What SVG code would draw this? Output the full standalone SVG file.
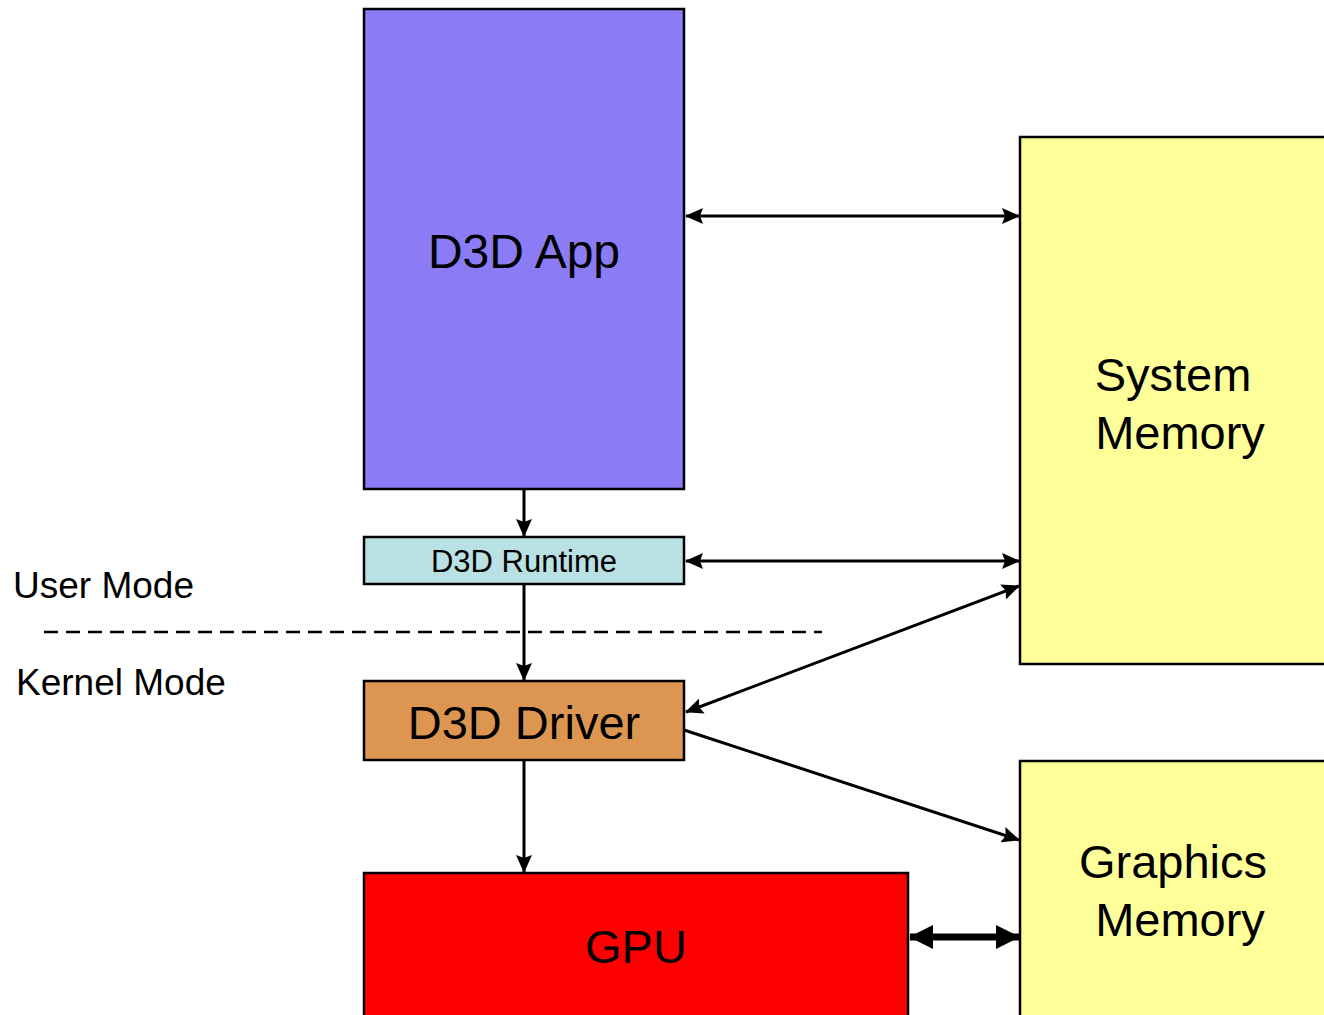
<svg xmlns="http://www.w3.org/2000/svg" width="1324" height="1015" viewBox="0 0 1324 1015">
<style>
.box{stroke:#000;stroke-width:2.5}
.t{font-family:"Liberation Sans",Arial,sans-serif;fill:#000}
.c{stroke:#000;stroke-width:3;fill:none}
</style>
<defs>
<marker id="ah" markerUnits="userSpaceOnUse" markerWidth="18" markerHeight="16" refX="17" refY="8" orient="auto-start-reverse" viewBox="0 0 18 16">
<path d="M0,0 L18,8 L0,16 L3,8 Z" fill="#000"/>
</marker>
<marker id="ahb" markerUnits="userSpaceOnUse" markerWidth="24" markerHeight="24" refX="23" refY="12" orient="auto-start-reverse" viewBox="0 0 24 24">
<path d="M0,0 L24,12 L0,24 Z" fill="#000"/>
</marker>
</defs>
<rect width="1324" height="1015" fill="#fff"/>
<g id="connectors">
<line class="c" x1="524" y1="489" x2="524" y2="536" marker-end="url(#ah)"/>
<line class="c" x1="524" y1="585" x2="524" y2="680" marker-end="url(#ah)"/>
<line class="c" x1="524" y1="761" x2="524" y2="872" marker-end="url(#ah)"/>
<line class="c" x1="686" y1="216" x2="1019" y2="216" marker-start="url(#ah)" marker-end="url(#ah)"/>
<line class="c" x1="686" y1="561" x2="1019" y2="561" marker-start="url(#ah)" marker-end="url(#ah)"/>
<line class="c" x1="686" y1="712" x2="1019" y2="586" marker-start="url(#ah)" marker-end="url(#ah)"/>
<line class="c" x1="684" y1="730" x2="1019" y2="840" marker-end="url(#ah)"/>
<line x1="910" y1="937" x2="1019" y2="937" stroke="#000" stroke-width="7" marker-start="url(#ahb)" marker-end="url(#ahb)"/>
<line x1="44" y1="632" x2="822" y2="632" stroke="#000" stroke-width="2.5" stroke-dasharray="14 8"/>
</g>
<g id="app">
<rect class="box" x="364" y="9" width="320" height="480" fill="#8B7BF5"/>
<text class="t" x="524" y="268" font-size="48" text-anchor="middle">D3D App</text>
</g>
<g id="runtime">
<rect class="box" x="364" y="537" width="320" height="47" fill="#B9E0E3"/>
<text class="t" x="524" y="572" font-size="31" text-anchor="middle">D3D Runtime</text>
</g>
<g id="driver">
<rect class="box" x="364" y="681" width="320" height="79" fill="#DD9652"/>
<text class="t" x="524" y="739" font-size="47" text-anchor="middle">D3D Driver</text>
</g>
<g id="gpu">
<rect class="box" x="364" y="873" width="544" height="150" fill="#FF0000"/>
<text class="t" x="636" y="963" font-size="47" text-anchor="middle">GPU</text>
</g>
<g id="sysmem">
<rect class="box" x="1020" y="137" width="310" height="527" fill="#FFFF99"/>
<text class="t" x="1173" y="391" font-size="47" text-anchor="middle">System</text>
<text class="t" x="1180" y="449" font-size="47" text-anchor="middle">Memory</text>
</g>
<g id="gfxmem">
<rect class="box" x="1020" y="761" width="310" height="262" fill="#FFFF99"/>
<text class="t" x="1173" y="878" font-size="47" text-anchor="middle">Graphics</text>
<text class="t" x="1180" y="936" font-size="47" text-anchor="middle">Memory</text>
</g>
<g id="labels">
<text class="t" x="13" y="598" font-size="37">User Mode</text>
<text class="t" x="16" y="695" font-size="37">Kernel Mode</text>
</g>
</svg>
